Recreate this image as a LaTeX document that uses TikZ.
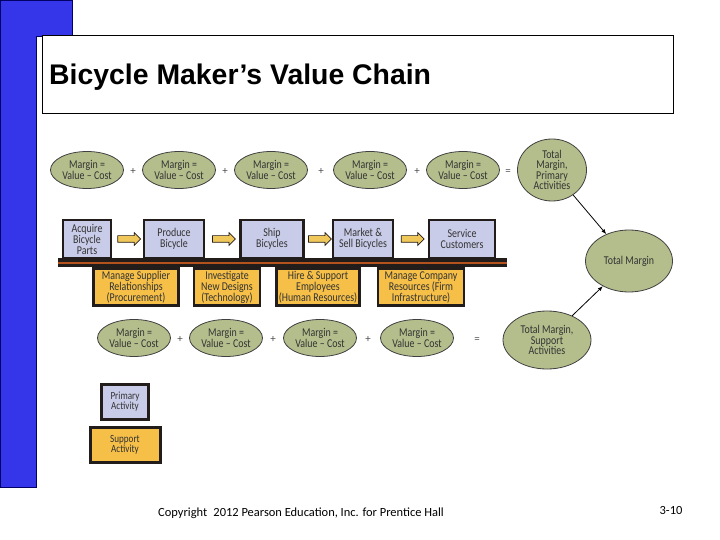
\documentclass[tikz,border=0pt]{standalone}
\usepackage{fontspec}
\setmainfont{Carlito}
\newfontfamily\diagfont{Carlito}[FakeStretch=0.83]
\newfontfamily\titlefont{Liberation Sans}
\usepackage{tikz}
\usetikzlibrary{positioning,arrows.meta,shapes.geometric,shapes.arrows}

\definecolor{slideblue}{HTML}{3535EA}
\definecolor{primfill}{HTML}{C9CCE8}
\definecolor{suppfill}{HTML}{F5BF48}
\definecolor{sage}{HTML}{B4BE8C}
\definecolor{boxline}{HTML}{221C1A}
\definecolor{barline}{HTML}{B4521E}
\definecolor{arrowfill}{HTML}{F0C85A}

\tikzset{
  primbox/.style={draw=boxline, line width=2.5bp, fill=primfill, inner sep=0pt,
    minimum height=38bp, align=center, font=\diagfont\fontsize{12}{11}\selectfont, text=black!80},
  suppbox/.style={draw=boxline, line width=2.5bp, fill=suppfill, inner sep=0pt,
    minimum height=37bp, align=center, font=\diagfont\fontsize{12}{11}\selectfont, text=black!80},
  margin/.style={ellipse, draw=black!75, line width=0.8bp, fill=sage, inner sep=0pt,
    minimum width=73bp, minimum height=37bp, align=center,
    font=\diagfont\fontsize{12}{10.5}\selectfont, text=black!80},
  sign/.style={font=\fontsize{11}{11}\selectfont, text=black!70, inner sep=1bp},
  blockarrow/.style={single arrow, draw=boxline, line width=0.7bp, fill=arrowfill,
    minimum height=23bp, inner xsep=0pt, inner ysep=3bp, single arrow head extend=3bp},
  legbox/.style={line width=3bp, font=\diagfont\fontsize{11}{10}\selectfont}
}

\begin{document}
\begin{tikzpicture}[x=1bp, y=-1bp]
  \useasboundingbox (0,0) rectangle (720,540);
  % slide frame
  \filldraw[fill=slideblue, draw=blue!40!black, line width=0.8bp]
    (0,0) -- (72,0) -- (72,36) -- (36,36) -- (36,487) -- (0,487) -- cycle;
  \draw[line width=1bp, fill=white] (42,36) rectangle (673,114);
  \node[anchor=west, inner sep=0pt, font=\titlefont\bfseries\fontsize{28.5}{28.5}\selectfont]
    (title) at (49,77) {Bicycle Maker’s Value Chain};

  % primary margins
  \node[margin] (pm1) at (87,170)  {Margin =\\Value – Cost};
  \node[margin] (pm2) at (179,170) {Margin =\\Value – Cost};
  \node[margin] (pm3) at (271,170) {Margin =\\Value – Cost};
  \node[margin] (pm4) at (370,170) {Margin =\\Value – Cost};
  \node[margin] (pm5) at (463,170) {Margin =\\Value – Cost};
  \foreach \x in {133,225,321,417} \node[sign] (ps\x) at (\x,171) {+};
  \node[sign] (peq) at (508,172) {=};
  \node[margin, minimum width=69bp, minimum height=62bp] (totprim) at (552,170)
    {Total\\Margin,\\Primary\\Activities};

  % bar
  \fill[boxline] (58,258) rectangle (507,267);
  \draw[barline, line width=1.5bp] (58,263) -- (507,263);

  % primary activities
  \node[primbox, minimum width=48bp] (acquire) at (87,239)  {Acquire\\Bicycle\\Parts};
  \node[primbox, minimum width=60bp] (produce) at (174,239) {Produce\\Bicycle};
  \node[primbox, minimum width=63bp] (ship)    at (272,239) {Ship\\Bicycles};
  \node[primbox, minimum width=60bp] (market)  at (363,239) {Market \&\\Sell Bicycles};
  \node[primbox, minimum width=66bp] (service) at (462,239) {Service\\Customers};
  \path (acquire.east) -- (produce.west) node[blockarrow, midway] (arr1) {};
  \path (produce.east) -- (ship.west)    node[blockarrow, midway] (arr2) {};
  \path (ship.east)    -- (market.west)  node[blockarrow, midway] (arr3) {};
  \path (market.east)  -- (service.west) node[blockarrow, midway] (arr4) {};

  % support activities
  \node[suppbox, minimum width=85bp] (procure) at (136,287) {Manage Supplier\\Relationships\\(Procurement)};
  \node[suppbox, minimum width=66bp] (tech)    at (227,287) {Investigate\\New Designs\\(Technology)};
  \node[suppbox, minimum width=83bp] (hr)      at (318,287) {Hire \& Support\\Employees\\(Human Resources)};
  \node[suppbox, minimum width=86bp] (infra)   at (421,287) {Manage Company\\Resources (Firm\\Infrastructure)};

  % support margins
  \node[margin] (sm1) at (134,338) {Margin =\\Value – Cost};
  \node[margin] (sm2) at (226,338) {Margin =\\Value – Cost};
  \node[margin] (sm3) at (320,338) {Margin =\\Value – Cost};
  \node[margin] (sm4) at (417,338) {Margin =\\Value – Cost};
  \foreach \x in {180,273,368} \node[sign] (ss\x) at (\x,339) {+};
  \node[sign] (seq) at (477,340) {=};
  \node[margin, minimum width=88bp, minimum height=58bp] (totsupp) at (547,340)
    {Total Margin,\\Support\\Activities};

  % total
  \node[margin, minimum width=87bp, minimum height=62bp] (total) at (629,261) {Total Margin};
  \draw[-{Latex[length=5bp,width=4bp]}, line width=0.8bp] (totprim) -- (total);
  \draw[-{Latex[length=5bp,width=4bp]}, line width=0.8bp] (totsupp) -- (total);

  % legend
  \node[primbox, legbox, minimum width=47bp, minimum height=35bp] (legprim) at (125,402) {Primary\\Activity};
  \node[suppbox, legbox, minimum width=70bp, minimum height=35bp, below=5bp of legprim] (legsupp) {Support\\Activity};

  % footer
  \node[font=\fontsize{12.5}{13}\selectfont] (copy) at (301,513) {Copyright\enspace 2012 Pearson Education, Inc. for Prentice Hall};
  \node[font=\fontsize{12.5}{13}\selectfont] (page) at (671,510) {3-10};
\end{tikzpicture}
\end{document}
